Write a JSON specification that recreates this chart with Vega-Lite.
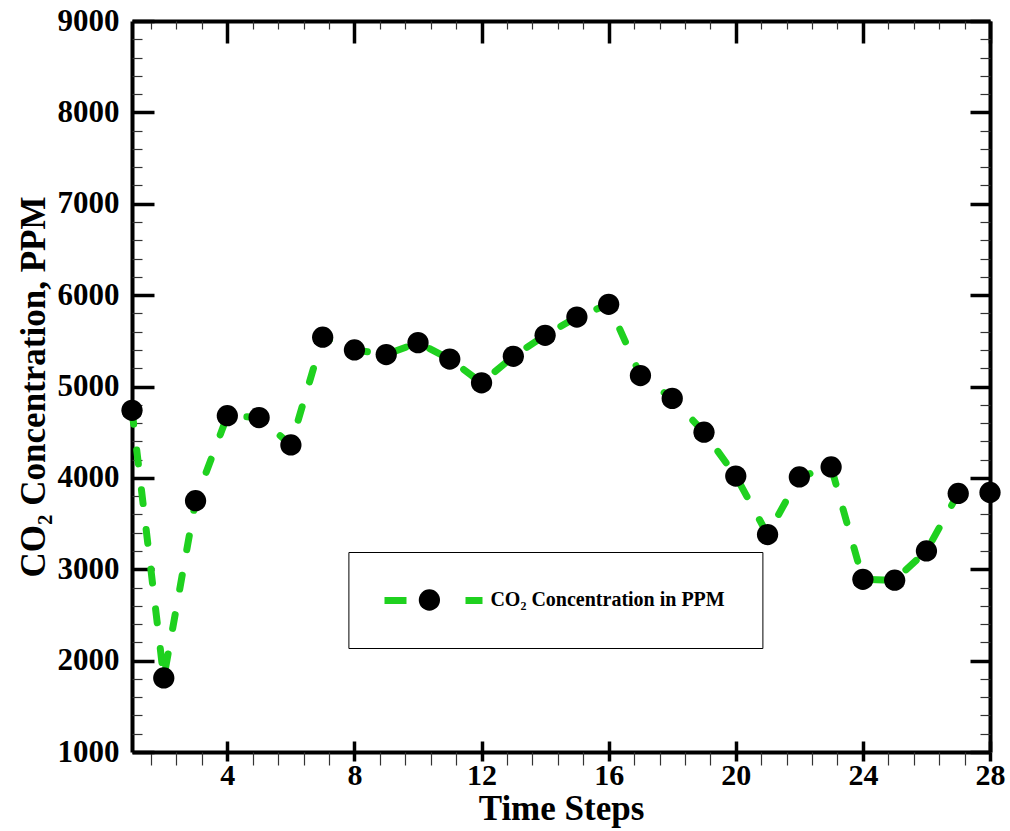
{
  "$schema": "https://vega.github.io/schema/vega-lite/v6.json",
  "width": 858,
  "height": 731,
  "autosize": {"type": "none"},
  "padding": {"left": 132, "top": 21, "right": 20, "bottom": 79},
  "background": "white",
  "config": {
    "view": {"stroke": null},
    "axis": {"grid": false, "domainColor": "black", "tickColor": "black", "labelColor": "black", "titleColor": "black", "font": "Liberation Serif", "labelFont": "Liberation Serif", "titleFont": "Liberation Serif"}
  },
  "data": {
    "values": [
      {"step": 1, "ppm": 4740}, {"step": 2, "ppm": 1810}, {"step": 3, "ppm": 3750}, {"step": 4, "ppm": 4680},
      {"step": 5, "ppm": 4660}, {"step": 6, "ppm": 4360}, {"step": 7, "ppm": 5540}, {"step": 8, "ppm": 5400},
      {"step": 9, "ppm": 5350}, {"step": 10, "ppm": 5480}, {"step": 11, "ppm": 5300}, {"step": 12, "ppm": 5040},
      {"step": 13, "ppm": 5330}, {"step": 14, "ppm": 5560}, {"step": 15, "ppm": 5760}, {"step": 16, "ppm": 5900},
      {"step": 17, "ppm": 5120}, {"step": 18, "ppm": 4870}, {"step": 19, "ppm": 4500}, {"step": 20, "ppm": 4020},
      {"step": 21, "ppm": 3380}, {"step": 22, "ppm": 4010}, {"step": 23, "ppm": 4120}, {"step": 24, "ppm": 2890},
      {"step": 25, "ppm": 2880}, {"step": 26, "ppm": 3200}, {"step": 27, "ppm": 3830}, {"step": 28, "ppm": 3840}
    ]
  },
  "resolve": {"scale": {"x": "shared", "y": "shared"}, "axis": {"x": "independent", "y": "independent"}},
  "layer": [
    {
      "mark": {"type": "line", "strokeWidth": 7, "strokeDash": [14, 26], "strokeCap": "round", "clip": false},
      "encoding": {
        "x": {"field": "step", "type": "quantitative", "scale": {"domain": [1, 28], "nice": false, "zero": false},
          "axis": {"orient": "bottom", "values": [4, 8, 12, 16, 20, 24, 28], "ticks": false, "domainWidth": 4, "labelFontSize": 30, "labelFontWeight": "bold", "labelPadding": 8, "labelFlush": false, "labelOverlap": false, "title": "Time Steps", "titleFontSize": 35, "titleFontWeight": "bold", "titlePadding": 1}},
        "y": {"field": "ppm", "type": "quantitative", "scale": {"domain": [1000, 9000], "nice": false, "zero": false},
          "axis": {"orient": "left", "values": [1000, 2000, 3000, 4000, 5000, 6000, 7000, 8000, 9000], "format": "d", "ticks": false, "domainWidth": 4, "labelFontSize": 31, "labelFontWeight": "bold", "labelPadding": 13, "labelFlush": false, "labelOverlap": false, "title": "CO₂ Concentration, PPM", "titleFontSize": 35, "titleFontWeight": "bold", "titlePadding": 6}},
        "color": {"datum": "CO₂ Concentration in PPM", "type": "nominal", "scale": {"range": ["#1fd11f"]},
          "legend": {"orient": "none", "legendX": 216, "legendY": 527, "title": null, "symbolType": "stroke", "symbolSize": 9604, "symbolStrokeWidth": 7, "symbolDash": [22, 59, 17, 100], "symbolOffset": 33, "labelExpr": "''", "labelFontSize": 1, "padding": 0, "zindex": 3}}
      }
    },
    {
      "mark": {"type": "point", "filled": true, "size": 452, "strokeWidth": 0, "opacity": 1, "clip": false},
      "encoding": {
        "x": {"field": "step", "type": "quantitative",
          "axis": {"orient": "bottom", "values": [4, 8, 12, 16, 20, 24, 28], "labels": false, "domain": false, "tickSize": 9, "tickWidth": 3.5, "title": null}},
        "y": {"field": "ppm", "type": "quantitative",
          "axis": {"orient": "left", "values": [1000, 2000, 3000, 4000, 5000, 6000, 7000, 8000, 9000], "labels": false, "domain": false, "tickSize": -22, "tickWidth": 3.5, "title": null}},
        "fill": {"datum": "points", "type": "nominal", "scale": {"range": ["black"]},
          "legend": {"orient": "none", "legendX": 216.4, "legendY": 531, "title": null, "symbolType": "circle", "symbolSize": 452, "symbolStrokeWidth": 0, "symbolFillColor": "black", "symbolOffset": 33, "labelOffset": 50, "labelExpr": "'CO₂ Concentration in PPM'", "labelFont": "Liberation Serif", "labelFontSize": 20, "labelFontWeight": "bold", "labelColor": "black", "labelLimit": 600, "padding": 37, "strokeColor": "black", "fillColor": "white", "zindex": 1}}
      }
    },
    {
      "mark": {"type": "point", "opacity": 0},
      "encoding": {
        "x": {"field": "step", "type": "quantitative",
          "axis": {"orient": "bottom", "values": [4, 8, 12, 16, 20, 24, 28], "labels": false, "domain": false, "tickSize": -11, "tickWidth": 3.5, "title": null}},
        "y": {"field": "ppm", "type": "quantitative",
          "axis": {"orient": "left", "values": [1200, 1400, 1600, 1800, 2200, 2400, 2600, 2800, 3200, 3400, 3600, 3800, 4200, 4400, 4600, 4800, 5200, 5400, 5600, 5800, 6200, 6400, 6600, 6800, 7200, 7400, 7600, 7800, 8200, 8400, 8600, 8800], "labels": false, "domain": false, "tickSize": -10, "tickWidth": 1.2, "tickColor": "#333333", "title": null}}
      }
    },
    {
      "mark": {"type": "point", "opacity": 0},
      "encoding": {
        "x": {"field": "step", "type": "quantitative",
          "axis": {"orient": "bottom", "values": [1.6, 2.4, 3.2, 4.8, 5.6, 6.4, 7.2, 8.8, 9.6, 10.4, 11.2, 12.8, 13.6, 14.4, 15.2, 16.8, 17.6, 18.4, 19.2, 20.8, 21.6, 22.4, 23.2, 24.8, 25.6, 26.4, 27.2], "labels": false, "domain": false, "tickSize": 13, "tickWidth": 1.2, "tickColor": "#333333", "title": null}},
        "y": {"field": "ppm", "type": "quantitative",
          "axis": {"orient": "right", "values": [1000, 2000, 3000, 4000, 5000, 6000, 7000, 8000, 9000], "labels": false, "domain": true, "domainWidth": 4, "tickSize": -20, "tickWidth": 3.5, "title": null}}
      }
    },
    {
      "mark": {"type": "point", "opacity": 0},
      "encoding": {
        "x": {"field": "step", "type": "quantitative",
          "axis": {"orient": "top", "values": [4, 8, 12, 16, 20, 24, 28], "labels": false, "domain": true, "domainWidth": 4, "tickSize": -22, "tickWidth": 3.5, "title": null}},
        "y": {"field": "ppm", "type": "quantitative",
          "axis": {"orient": "right", "values": [1200, 1400, 1600, 1800, 2200, 2400, 2600, 2800, 3200, 3400, 3600, 3800, 4200, 4400, 4600, 4800, 5200, 5400, 5600, 5800, 6200, 6400, 6600, 6800, 7200, 7400, 7600, 7800, 8200, 8400, 8600, 8800], "labels": false, "domain": false, "tickSize": -10, "tickWidth": 1.2, "tickColor": "#333333", "title": null}}
      }
    },
    {
      "mark": {"type": "point", "opacity": 0},
      "encoding": {
        "x": {"field": "step", "type": "quantitative",
          "axis": {"orient": "top", "values": [1.6, 2.4, 3.2, 4.8, 5.6, 6.4, 7.2, 8.8, 9.6, 10.4, 11.2, 12.8, 13.6, 14.4, 15.2, 16.8, 17.6, 18.4, 19.2, 20.8, 21.6, 22.4, 23.2, 24.8, 25.6, 26.4, 27.2], "labels": false, "domain": false, "tickSize": -8, "tickWidth": 1.2, "tickColor": "#333333", "title": null}},
        "y": {"field": "ppm", "type": "quantitative", "axis": null}
      }
    }
  ]
}
